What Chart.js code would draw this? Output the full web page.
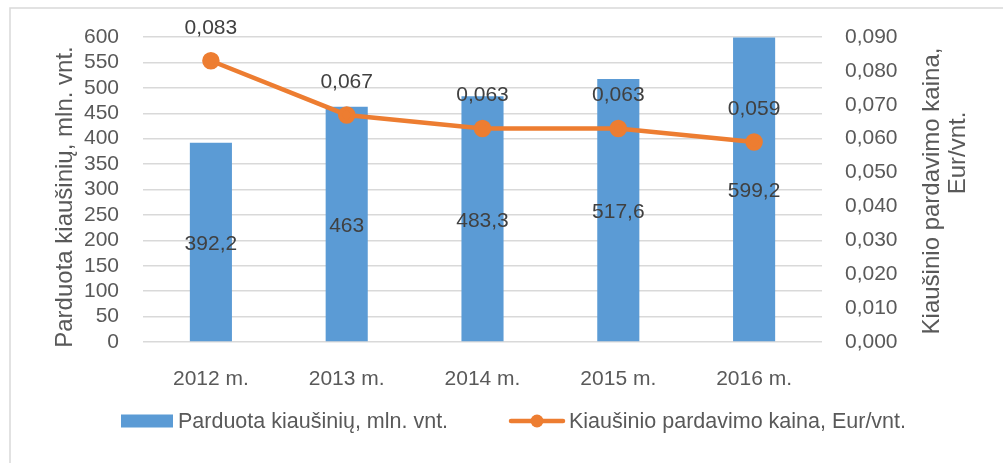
<!DOCTYPE html>
<html>
<head>
<meta charset="utf-8">
<script src="https://cdn.jsdelivr.net/npm/chart.js@4"></script>
<style>
  body { margin: 0; background: #fff; }
  canvas { display: block; }
</style>
</head>
<body>
<canvas id="eggChart" width="1003" height="463"></canvas>
<script>
var years = ["2012 m.", "2013 m.", "2014 m.", "2015 m.", "2016 m."];
var soldEggs = [392.2, 463, 483.3, 517.6, 599.2];
var eggPrice = [0.083, 0.067, 0.063, 0.063, 0.059];
var soldLabel = "Parduota kiaušinių, mln. vnt.";
var priceLabel = "Kiaušinio pardavimo kaina, Eur/vnt.";
var priceTitleLines = ["Kiaušinio pardavimo kaina,", "Eur/vnt."];

var blue = "#5B9BD5";
var orange = "#ED7D31";
var textGray = "#595959";
var labelGray = "#404040";
var font = "'Liberation Sans', Arial, sans-serif";

function comma(v, digits) {
    var s = digits === undefined ? String(v) : v.toFixed(digits);
    return s.replace(".", ",");
}

// data labels, axis titles, legend and frame
var extras = {
    id: "extras",
    beforeDraw: function (chart) {
        var ctx = chart.ctx;
        ctx.save();
        ctx.fillStyle = "#fff";
        ctx.fillRect(0, 0, chart.width, chart.height);
        ctx.strokeStyle = "#D9D9D9";
        ctx.lineWidth = 1.5;
        ctx.strokeRect(10, 8, chart.width + 20, chart.height + 20);
        ctx.restore();
    },
    afterDatasetsDraw: function (chart) {
        var ctx = chart.ctx;
        ctx.save();
        ctx.fillStyle = labelGray;
        ctx.font = "21px " + font;
        ctx.textAlign = "center";
        ctx.textBaseline = "middle";
        chart.getDatasetMeta(0).data.forEach(function (bar, i) {
            var mid = (bar.y + bar.base) / 2;
            ctx.fillText(comma(soldEggs[i]), bar.x, mid + 2);
        });
        chart.getDatasetMeta(1).data.forEach(function (pt, i) {
            ctx.fillText(comma(eggPrice[i], 3), pt.x, pt.y - 33);
        });
        ctx.restore();
    },
    afterDraw: function (chart) {
        var ctx = chart.ctx;
        ctx.save();
        ctx.fillStyle = textGray;
        ctx.font = "24px " + font;
        ctx.textAlign = "center";
        ctx.textBaseline = "middle";

        ctx.save();
        ctx.translate(65, 197);
        ctx.rotate(-Math.PI / 2);
        ctx.fillText(soldLabel, 0, 0);
        ctx.restore();

        ctx.save();
        ctx.rotate(-Math.PI / 2);
        ctx.fillText(priceTitleLines[0], -191, 932);
        ctx.fillText(priceTitleLines[1], -153, 958);
        ctx.restore();

        // legend
        var ly = 421;
        ctx.fillStyle = blue;
        ctx.fillRect(121, ly - 6.5, 52, 13);
        ctx.fillStyle = textGray;
        ctx.font = "21.5px " + font;
        ctx.textAlign = "left";
        ctx.fillText(soldLabel, 178, ly + 1);

        ctx.strokeStyle = orange;
        ctx.lineWidth = 4.5;
        ctx.lineCap = "round";
        ctx.beginPath();
        ctx.moveTo(511, ly);
        ctx.lineTo(563, ly);
        ctx.stroke();
        ctx.fillStyle = orange;
        ctx.beginPath();
        ctx.arc(537, ly, 6.5, 0, Math.PI * 2);
        ctx.fill();
        ctx.fillStyle = textGray;
        ctx.fillText(priceLabel, 569, ly + 1);
        ctx.restore();
    }
};

var ctx = document.getElementById("eggChart");
var eggChart = new Chart(ctx, {
    type: "bar",
    data: {
        labels: years,
        datasets: [{
            type: "bar",
            label: soldLabel,
            data: soldEggs,
            backgroundColor: blue,
            yAxisID: "y",
            barPercentage: 0.31,
            categoryPercentage: 1,
            order: 2
        }, {
            type: "line",
            label: priceLabel,
            data: eggPrice,
            borderColor: orange,
            backgroundColor: orange,
            borderWidth: 4.5,
            pointRadius: 6.5,
            pointBackgroundColor: orange,
            pointBorderColor: orange,
            tension: 0,
            yAxisID: "y1",
            order: 1
        }]
    },
    options: {
        responsive: false,
        animation: false,
        devicePixelRatio: 1,
        layout: { padding: { top: 37, left: 0, right: 0, bottom: 0 } },
        plugins: {
            legend: { display: false },
            tooltip: { enabled: false }
        },
        scales: {
            x: {
                grid: { display: false },
                border: { display: false },
                ticks: {
                    color: textGray,
                    font: { size: 21, family: font },
                    padding: 17
                },
                afterFit: function (scale) { scale.height = 121; }
            },
            y: {
                position: "left",
                min: 0,
                max: 600,
                ticks: {
                    stepSize: 50,
                    autoSkip: false,
                    color: textGray,
                    font: { size: 21, family: font },
                    padding: 24
                },
                grid: { color: "#D9D9D9", lineWidth: 1.5, drawTicks: false },
                border: { display: false },
                afterFit: function (scale) { scale.width = 143; }
            },
            y1: {
                position: "right",
                min: 0,
                max: 0.09,
                ticks: {
                    stepSize: 0.01,
                    autoSkip: false,
                    color: textGray,
                    font: { size: 21, family: font },
                    padding: 23,
                    callback: function (v) { return comma(v, 3); }
                },
                grid: { display: false, drawTicks: false },
                border: { display: false },
                afterFit: function (scale) { scale.width = 181; }
            }
        }
    },
    plugins: [extras]
});
</script>
</body>
</html>
